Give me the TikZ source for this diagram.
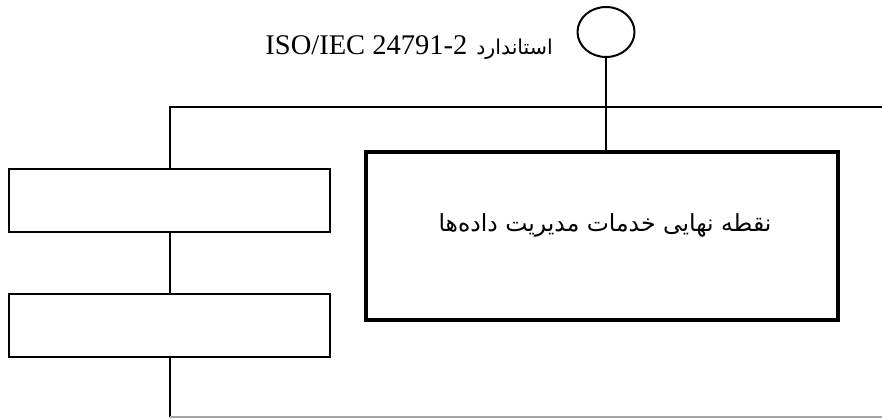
\documentclass[tikz,border=0pt]{standalone}
\usepackage{fontspec}
\setmainfont{Liberation Serif}
\newfontfamily\arabicfont[Script=Arabic]{DejaVu Sans}
\TeXXeTstate=1
\usetikzlibrary{shapes.geometric}
\tikzset{
  thinline/.style={line width=2pt, draw=black},
  smallbox/.style={draw=black, line width=2pt, rectangle, minimum width=321pt, minimum height=63pt, inner sep=0pt},
  bigbox/.style={draw=black, line width=3.5pt, rectangle, minimum width=472pt, minimum height=168pt, inner sep=0pt},
  iface/.style={draw=black, line width=2pt, ellipse, minimum width=57pt, minimum height=50pt, inner sep=0pt},
}
\begin{document}
\begin{tikzpicture}[x=1pt, y=-1pt]
\useasboundingbox (0,0) rectangle (882,418);
\fill[white] (0,0) rectangle (882,418);
\node[iface] (circ) at (606,32) {};
\node[bigbox] (big) at (602,236) {};
\node[smallbox] (b1) at (169.5,200.5) {};
\node[smallbox] (b2) at (169.5,325.5) {};
\coordinate (tl) at (169.5,107);
\coordinate (tr) at (882,107);
\coordinate (bl) at (169.5,417);
\coordinate (br) at (882,417);
\node[anchor=center, inner sep=0pt] (txt) at (605,225)
  {\fontsize{23.5}{26}\selectfont\arabicfont\beginR نقطه نهایی خدمات مدیریت داده‌ها\endR};
\node[anchor=base east, inner sep=0pt] (lbl) at (553,54)
  {\fontsize{28.5}{31}\selectfont ISO/IEC 24791-2\hspace{9pt}{\fontsize{20.5}{23}\selectfont\arabicfont\beginR استاندارد\endR}};
\draw[thinline] (circ.south) -- (circ.south |- big.north);
\draw[thinline] (b1.north) -- (tl) -- (tr);
\draw[thinline] (b1.south) -- (b2.north);
\draw[thinline] (b2.south) -- (bl);
\draw[line width=1.5pt, draw=black!35] (bl) -- (br);
\end{tikzpicture}
\end{document}
